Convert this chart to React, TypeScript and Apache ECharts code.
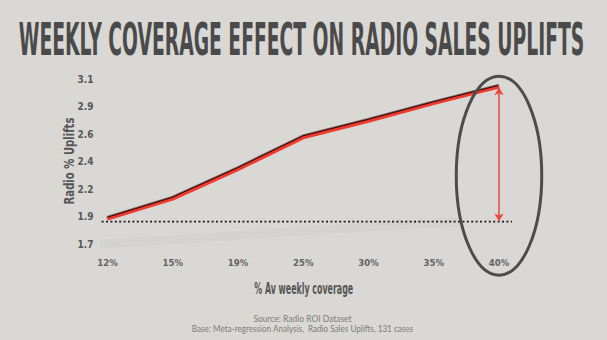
import React, { useEffect, useRef } from 'react';
import * as echarts from 'echarts';

const categories = ['12%', '15%', '19%', '25%', '30%', '35%', '40%'];
const uplifts = [1.91, 2.08, 2.33, 2.6, 2.74, 2.89, 3.03];
const baseline = 1.89;
const yMin = 1.7;
const yMax = 3.1;
const ySteps = 6;
const ellipseMid = 2.28;
const title = 'WEEKLY COVERAGE EFFECT ON RADIO SALES UPLIFTS';
const yName = 'Radio % Uplifts';
const xName = '% Av weekly coverage';
const sourceLines = [
  'Source: Radio ROI Dataset',
  'Base: Meta-regression Analysis,  Radio Sales Uplifts, 131 cases',
];

const COND = "'Liberation Sans Narrow', 'DejaVu Sans Condensed', 'Arial Narrow', sans-serif";

function measure(text: string, font: string): number {
  const c = document.createElement('canvas');
  const ctx = c.getContext('2d');
  if (!ctx) return text.length * 8;
  ctx.font = font;
  return ctx.measureText(text).width;
}

function fitText(text: string, x: number, y: number, font: string, width: number, fill: string, rotation = 0) {
  const w = measure(text, font);
  return {
    type: 'text',
    x,
    y,
    rotation,
    scaleX: width / w,
    scaleY: 1,
    silent: true,
    style: { text, font, fill, align: 'center', verticalAlign: 'middle' },
  };
}

export default function App() {
  const ref = useRef<HTMLDivElement>(null);
  useEffect(() => {
    document.body.style.margin = '0';
    if (!ref.current) return;
    const chart = echarts.init(ref.current, undefined, { renderer: 'svg' });
    const option: any = {
      animation: false,
      backgroundColor: '#d9d8d4',
      grid: { left: 107.5, right: 108, top: 79, bottom: 96, containLabel: false },
      xAxis: {
        type: 'category',
        data: categories,
        boundaryGap: false,
        axisLine: { show: false },
        axisTick: { show: false },
        splitLine: { show: false },
        axisLabel: { margin: 13, color: '#626262', fontSize: 9.5, fontWeight: 'bold', fontFamily: COND },
      },
      yAxis: {
        type: 'value',
        min: yMin,
        max: yMax,
        interval: (yMax - yMin) / ySteps,
        axisLine: { show: false },
        axisTick: { show: false },
        splitLine: { show: false },
        axisLabel: {
          margin: 14,
          color: '#575757',
          fontSize: 10,
          fontWeight: 'bold',
          fontFamily: COND,
          formatter: (v: number) => v.toFixed(1),
        },
      },
      graphic: [
        {
          type: 'polyline',
          silent: true,
          z: 0,
          shape: { points: [[100, 244], [200, 238], [300, 231], [400, 225], [460, 222]], smooth: 0.3 },
          style: {
            stroke: 'rgba(0,0,0,0.025)',
            lineWidth: 9,
            fill: 'none',
            shadowBlur: 12,
            shadowColor: 'rgba(0,0,0,0.14)',
          },
        },
        fitText(title, 301.5, 39, `bold 45px ${COND}`, 566, '#4a4a4a'),
        fitText(yName, 69, 161, `bold 14px ${COND}`, 87, '#555555', Math.PI / 2),
        fitText(xName, 303.7, 289.5, `bold 15px ${COND}`, 99, '#555555'),
        fitText(sourceLines[0], 302.5, 318, '9px Lato, sans-serif', 98, '#7c7c7c'),
        fitText(sourceLines[1], 302.5, 329, '9px Lato, sans-serif', 222, '#7c7c7c'),
      ],
      series: [
        {
          type: 'line',
          data: uplifts,
          symbol: 'none',
          z: 5,
          lineStyle: {
            color: '#ee3a2e',
            width: 2.8,
            shadowColor: 'rgba(50,5,5,1)',
            shadowOffsetY: -1.6,
            shadowOffsetX: -0.3,
            shadowBlur: 1,
          },
          markLine: {
            silent: true,
            symbol: ['arrow', 'arrow'],
            symbolSize: [7, 8],
            label: { show: false },
            lineStyle: { color: '#ea4a40', width: 1.5, type: 'solid' },
            data: [
              [
                { coord: [categories[categories.length - 1], uplifts[uplifts.length - 1]] },
                { coord: [categories[categories.length - 1], baseline] },
              ],
            ],
          },
        },
      ],
    };
    chart.setOption(option);

    const last = categories.length - 1;
    const p0 = chart.convertToPixel({ seriesIndex: 0 }, [0, baseline]) as number[];
    const p1 = chart.convertToPixel({ seriesIndex: 0 }, [last, baseline]) as number[];
    const pc = chart.convertToPixel({ seriesIndex: 0 }, [last, ellipseMid]) as number[];
    const band = (p1[0] - p0[0]) / last;
    chart.setOption({
      graphic: [
        ...option.graphic,
        {
          type: 'line',
          silent: true,
          z: 4,
          shape: { x1: p0[0] - band * 0.09, y1: p0[1], x2: p1[0] + band * 0.2, y2: p1[1] },
          style: { stroke: '#1a1a1a', lineWidth: 1.6, lineDash: [2, 2.4] },
        },
        {
          type: 'ellipse',
          silent: true,
          z: 6,
          shape: { cx: pc[0], cy: pc[1], rx: band * 0.655, ry: 99.5 },
          style: { stroke: '#4c4c4c', lineWidth: 3, fill: 'none' },
        },
      ],
    });
    return () => chart.dispose();
  }, []);
  return <div ref={ref} style={{ width: 607, height: 340 }} />;
}
